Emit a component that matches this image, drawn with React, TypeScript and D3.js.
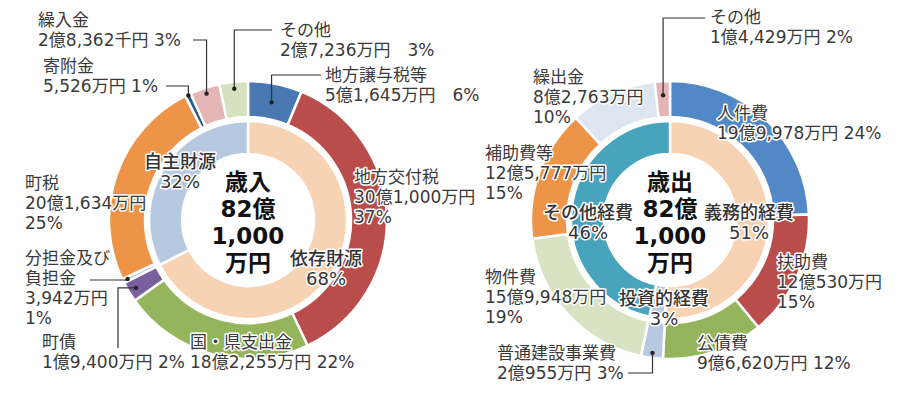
import React from 'react';
import * as d3 from 'd3';

// 歳入 (revenue) - amounts in 万円
const revNames = ['地方譲与税等', '地方交付税', '国・県支出金', '町債', '分担金及び負担金', '町税', '寄附金', '繰入金', 'その他'];
const revAmounts = [51645, 301000, 182255, 19400, 3942, 201634, 5526, 28362, 27236];
const revAmountText = ['5億1,645万円', '30億1,000万円', '18億2,255万円', '1億9,400万円', '3,942万円', '20億1,634万円', '5,526万円', '2億8,362千円', '2億7,236万円'];
const revShares = ['6%', '37%', '22%', '2%', '1%', '25%', '1%', '3%', '3%'];
const revColors = ['#4a78b2', '#b94d4b', '#94b55b', '#7a5f9f', '#a9c6e2', '#ee9448', '#2f5a8e', '#e4b5b5', '#d5e1bf'];
const revGroups = ['依存財源', '自主財源'];
const revGroupAmounts = [554300, 266700];
const revGroupShares = ['68%', '32%'];
const revGroupColors = ['#f8d3b3', '#b6c9e0'];

// 歳出 (expenditure)
const expNames = ['人件費', '扶助費', '公債費', '普通建設事業費', '物件費', '補助費等', '繰出金', 'その他'];
const expAmounts = [199978, 120530, 96620, 20955, 159948, 125777, 82763, 14429];
const expAmountText = ['19億9,978万円', '12億530万円', '9億6,620万円', '2億955万円', '15億9,948万円', '12億5,777万円', '8億2,763万円', '1億4,429万円'];
const expShares = ['24%', '15%', '12%', '3%', '19%', '15%', '10%', '2%'];
const expColors = ['#5189c7', '#b94d4b', '#94b55b', '#b6c9e0', '#d7e3c3', '#ee9448', '#dde5f1', '#e4b5b5'];
const expGroups = ['義務的経費', '投資的経費', 'その他経費'];
const expGroupAmounts = [417128, 20955, 382862];
const expGroupShares = ['51%', '3%', '46%'];
const expGroupColors = ['#f8d3b3', '#b6c9e0', '#48a4bd'];

const totalTitle = ['82億', '1,000', '万円'];

type Leader = { sx: number; sy: number; r: number; order: 'hv' | 'vh' };
type Label = { i: number; x: number; y: number; lines: string[]; leader?: Leader };

const revLabels: Label[] = [
  { i: 0, x: 325, y: 75, lines: [revNames[0], `${revAmountText[0]}　${revShares[0]}`], leader: { sx: 321, sy: 75, r: 120, order: 'hv' } },
  { i: 1, x: 354, y: 177, lines: [revNames[1], revAmountText[1], revShares[1]] },
  { i: 2, x: 190, y: 342, lines: [revNames[2], `${revAmountText[2]} ${revShares[2]}`] },
  { i: 3, x: 42, y: 342, lines: [revNames[3], `${revAmountText[3]} ${revShares[3]}`], leader: { sx: 118, sy: 348, r: 131, order: 'vh' } },
  { i: 4, x: 25, y: 258, lines: ['分担金及び', '負担金', revAmountText[4], revShares[4]], leader: { sx: 90, sy: 280, r: 134, order: 'hv' } },
  { i: 5, x: 25, y: 183, lines: [revNames[5], revAmountText[5], revShares[5]] },
  { i: 6, x: 43, y: 66, lines: [revNames[6], `${revAmountText[6]} ${revShares[6]}`], leader: { sx: 166, sy: 86, r: 138, order: 'hv' } },
  { i: 7, x: 38, y: 20, lines: [revNames[7], `${revAmountText[7]} ${revShares[7]}`], leader: { sx: 193, sy: 40, r: 133, order: 'hv' } },
  { i: 8, x: 280, y: 30, lines: [revNames[8], `${revAmountText[8]}　${revShares[8]}`], leader: { sx: 272, sy: 30, r: 132, order: 'hv' } },
];

const expLabels: Label[] = [
  { i: 0, x: 717, y: 113, lines: [expNames[0], `${expAmountText[0]} ${expShares[0]}`] },
  { i: 1, x: 777, y: 262, lines: [expNames[1], expAmountText[1], expShares[1]] },
  { i: 2, x: 697, y: 343, lines: [expNames[2], `${expAmountText[2]} ${expShares[2]}`] },
  { i: 3, x: 497, y: 353, lines: [expNames[3], `${expAmountText[3]} ${expShares[3]}`], leader: { sx: 628, sy: 373, r: 134, order: 'hv' } },
  { i: 4, x: 485, y: 277, lines: [expNames[4], expAmountText[4], expShares[4]] },
  { i: 5, x: 485, y: 153, lines: [expNames[5], expAmountText[5], expShares[5]] },
  { i: 6, x: 533, y: 77, lines: [expNames[6], expAmountText[6], expShares[6]] },
  { i: 7, x: 710, y: 17, lines: [expNames[7], `${expAmountText[7]} ${expShares[7]}`], leader: { sx: 705, sy: 18, r: 125, order: 'hv' } },
];

const revGroupLabels = [
  { i: 0, x: 326, y: 258 },
  { i: 1, x: 180, y: 161 },
];
const expGroupLabels = [
  { i: 0, x: 749, y: 212 },
  { i: 1, x: 664, y: 298 },
  { i: 2, x: 588, y: 212 },
];

const FONT = '"DejaVu Sans", "Noto Sans CJK JP", sans-serif';
const R_OUT = 139;
const R_OUT_IN = 103;
const R_IN = 99;
const R_IN_IN = 66;
const CY = 220;

const halo = {
  stroke: '#fff',
  strokeWidth: 3,
  paintOrder: 'stroke' as const,
  strokeLinejoin: 'round' as const,
};

const pie = d3.pie<number>().sort(null).value(d => d);
const outerArc = d3.arc<d3.PieArcDatum<number>>().innerRadius(R_OUT_IN).outerRadius(R_OUT);
const innerArc = d3.arc<d3.PieArcDatum<number>>().innerRadius(R_IN_IN).outerRadius(R_IN);

type DonutProps = {
  cx: number;
  title: string;
  amounts: number[];
  colors: string[];
  groupAmounts: number[];
  groupColors: string[];
  groups: string[];
  groupShares: string[];
  groupLabels: { i: number; x: number; y: number }[];
  labels: Label[];
};

const Donut = ({ cx, title, amounts, colors, groupAmounts, groupColors, groups, groupShares, groupLabels, labels }: DonutProps) => {
  const outer = pie(amounts);
  const inner = pie(groupAmounts);
  const pos = (a: d3.PieArcDatum<number>, r: number) => {
    const m = (a.startAngle + a.endAngle) / 2;
    return [cx + r * Math.sin(m), CY - r * Math.cos(m)];
  };
  return (
    <g>
      <g transform={`translate(${cx},${CY})`}>
        {outer.map((a, i) => (
          <path key={'o' + i} d={outerArc(a) || ''} fill={colors[i]} stroke="#fff" strokeWidth={2.5} />
        ))}
        {inner.map((a, i) => (
          <path key={'n' + i} d={innerArc(a) || ''} fill={groupColors[i]} stroke="#fff" strokeWidth={2.5} />
        ))}
      </g>
      {/* center total */}
      <g fontFamily={FONT} fontWeight={700} fontSize={23} fill="#111" textAnchor="middle">
        {[title, ...totalTitle].map((t, k) => (
          <text key={k} x={cx} y={182 + k * 27} dominantBaseline="central">{t}</text>
        ))}
      </g>
      {/* inner ring labels */}
      <g fontFamily={FONT} fontWeight={500} fontSize={18} fill="#333" textAnchor="middle">
        {groupLabels.map(g => (
          <g key={g.i}>
            <text x={g.x} y={g.y} dominantBaseline="central" {...halo}>{groups[g.i]}</text>
            <text x={g.x} y={g.y + 20} dominantBaseline="central" {...halo}>{groupShares[g.i]}</text>
          </g>
        ))}
      </g>
      {/* leaders */}
      {labels.filter(l => l.leader).map(l => {
        const ld = l.leader as Leader;
        const [dx, dy] = pos(outer[l.i], ld.r);
        const d = ld.order === 'hv'
          ? `M${ld.sx},${ld.sy}H${dx}V${dy}`
          : `M${ld.sx},${ld.sy}V${dy}H${dx}`;
        return (
          <g key={'l' + l.i}>
            <path d={d} fill="none" stroke="#333" strokeWidth={1.2} />
            <circle cx={dx} cy={dy} r={2.2} fill="#222" />
          </g>
        );
      })}
      {/* outer labels */}
      <g fontFamily={FONT} fontSize={17} fill="#3a3a3a">
        {labels.map(l => (
          <g key={'t' + l.i}>
            {l.lines.map((s, k) => (
              <text key={k} x={l.x} y={l.y + k * 20} dominantBaseline="central" {...halo}>{s}</text>
            ))}
          </g>
        ))}
      </g>
    </g>
  );
};

export default function App() {
  return (
    <svg width={900} height={393} style={{ position: 'absolute', left: 0, top: 0, background: '#fff' }}>
      <Donut
        cx={248}
        title="歳入"
        amounts={revAmounts}
        colors={revColors}
        groupAmounts={revGroupAmounts}
        groupColors={revGroupColors}
        groups={revGroups}
        groupShares={revGroupShares}
        groupLabels={revGroupLabels}
        labels={revLabels}
      />
      <Donut
        cx={670}
        title="歳出"
        amounts={expAmounts}
        colors={expColors}
        groupAmounts={expGroupAmounts}
        groupColors={expGroupColors}
        groups={expGroups}
        groupShares={expGroupShares}
        groupLabels={expGroupLabels}
        labels={expLabels}
      />
    </svg>
  );
}
